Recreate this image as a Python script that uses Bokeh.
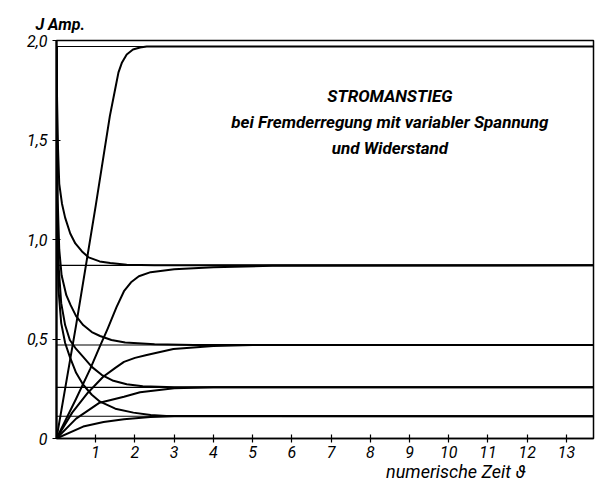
from bokeh.plotting import figure
from bokeh.models import Range1d, FixedTicker, Label, Title
from bokeh.embed import file_html
from bokeh.resources import INLINE

# ---- data ----
x_ticks = [1, 2, 3, 4, 5, 6, 7, 8, 9, 10, 11, 12, 13]
x_tick_labels = ["1", "2", "3", "4", "5", "6", "7", "8", "9", "10", "11", "12", "13"]
y_ticks = [0, 0.5, 1.0, 1.5, 2.0]
y_tick_labels = ["0", "0,5", "1,0", "1,5", "2,0"]

t_max = 13.69
asymptotes = [1.97, 0.87, 0.47, 0.257, 0.112]

# rising curves (from 0)
rise_1_x = [0, 0.5, 1.0, 1.2, 1.36, 1.5, 1.58, 1.67, 1.79, 1.95, 2.13, 2.3, 13.69]
rise_1_y = [0, 0.57, 1.17, 1.42, 1.62, 1.76, 1.84, 1.89, 1.93, 1.955, 1.965, 1.97, 1.97]

rise_2_x = [0, 0.5, 0.86, 1.1, 1.3, 1.53, 1.72, 1.9, 2.1, 2.4, 3.0, 4.0, 5.5, 13.69]
rise_2_y = [0, 0.2, 0.35, 0.46, 0.55, 0.66, 0.74, 0.785, 0.815, 0.836, 0.85, 0.86, 0.868, 0.87]

rise_3_x = [0, 0.4, 0.8, 1.19, 1.5, 1.72, 2.0, 2.3, 2.98, 4.0, 5.0, 13.69]
rise_3_y = [0, 0.13, 0.23, 0.31, 0.355, 0.385, 0.405, 0.42, 0.45, 0.465, 0.47, 0.47]

rise_4_x = [0, 0.5, 1.1, 1.72, 2.13, 3.0, 4.0, 13.69]
rise_4_y = [0, 0.1, 0.18, 0.21, 0.232, 0.252, 0.257, 0.257]

rise_5_x = [0, 0.68, 1.2, 1.72, 2.39, 3.0, 13.69]
rise_5_y = [0, 0.06, 0.083, 0.097, 0.108, 0.112, 0.112]

# decaying curves (from the top)
decay_1_x = [0, 0.015, 0.04, 0.07, 0.14, 0.22, 0.35, 0.48, 0.65, 0.82, 1.1, 1.37, 1.79, 2.5, 13.69]
decay_1_y = [1.97, 1.7, 1.45, 1.28, 1.18, 1.11, 1.03, 0.98, 0.94, 0.91, 0.89, 0.882, 0.873, 0.87, 0.87]

decay_2_x = [0, 0.01, 0.03, 0.07, 0.13, 0.25, 0.36, 0.5, 0.68, 0.9, 1.11, 1.4, 1.75, 2.5, 3.5, 13.69]
decay_2_y = [1.97, 1.6, 1.2, 0.95, 0.82, 0.72, 0.67, 0.615, 0.57, 0.535, 0.515, 0.495, 0.482, 0.474, 0.47, 0.47]

decay_3_x = [0, 0.008, 0.025, 0.06, 0.12, 0.22, 0.34, 0.5, 0.68, 0.9, 1.15, 1.45, 1.79, 2.2, 3.0, 13.69]
decay_3_y = [1.97, 1.5, 1.1, 0.85, 0.68, 0.57, 0.495, 0.45, 0.41, 0.36, 0.32, 0.29, 0.273, 0.263, 0.257, 0.257]

decay_4_x = [0, 0.006, 0.02, 0.05, 0.12, 0.22, 0.34, 0.5, 0.68, 0.9, 1.11, 1.5, 1.96, 2.4, 2.8, 13.69]
decay_4_y = [1.97, 1.4, 1.0, 0.75, 0.58, 0.48, 0.41, 0.33, 0.27, 0.22, 0.185, 0.15, 0.13, 0.118, 0.113, 0.112]

title_lines = ["STROMANSTIEG",
               "bei Fremderregung mit variabler Spannung",
               "und Widerstand"]
y_label = "J Amp."
x_label = "numerische Zeit \u03d1"

FONT = "Roboto"

p = figure(width=595, height=480, output_backend="svg", toolbar_location=None,
           x_range=Range1d(0, t_max), y_range=Range1d(0, 2.0),
           min_border_left=56, min_border_right=2, min_border_top=40, min_border_bottom=42)
p.background_fill_color = "white"
p.border_fill_color = "white"
p.outline_line_color = "black"
p.outline_line_width = 1.5
p.grid.visible = False

for ax in (p.xaxis[0], p.yaxis[0]):
    ax.axis_line_color = "black"
    ax.axis_line_width = 1.5
    ax.major_tick_line_color = "black"
    ax.major_tick_line_width = 1.2
    ax.major_tick_in = 4
    ax.major_tick_out = 4
    ax.minor_tick_line_color = None
    ax.major_label_text_font = FONT
    ax.major_label_text_font_style = "italic"
    ax.major_label_text_font_size = "16px"
    ax.major_label_text_color = "black"

p.xaxis.ticker = FixedTicker(ticks=x_ticks)
p.xaxis.major_label_overrides = {t: l for t, l in zip(x_ticks, x_tick_labels)}
p.xaxis.major_label_standoff = 3
p.yaxis.ticker = FixedTicker(ticks=y_ticks)
p.yaxis.major_label_overrides = {t: l for t, l in zip(y_ticks, y_tick_labels)}
p.yaxis.major_label_standoff = 5
p.yaxis[0].axis_line_width = 2.2

for lvl in asymptotes:
    p.line([0, t_max], [lvl, lvl], line_color="black", line_width=1.1)

curves = [(rise_1_x, rise_1_y), (rise_2_x, rise_2_y), (rise_3_x, rise_3_y),
          (rise_4_x, rise_4_y), (rise_5_x, rise_5_y),
          (decay_1_x, decay_1_y), (decay_2_x, decay_2_y),
          (decay_3_x, decay_3_y), (decay_4_x, decay_4_y)]
for xs, ys in curves:
    p.line(xs, ys, line_color="black", line_width=2.0, line_join="round")

title_y = [1.72, 1.59, 1.46]
for txt, ty in zip(title_lines, title_y):
    p.add_layout(Label(x=8.5, y=ty, text=txt, text_align="center", text_baseline="middle",
                       text_font=FONT, text_font_style="bold italic",
                       text_font_size="17px", text_color="black"))

p.add_layout(Title(text=y_label, align="left", offset=-21, standoff=14,
                   text_font=FONT, text_font_style="bold italic", text_font_size="16px",
                   text_color="black"), "above")
p.add_layout(Title(text=x_label, align="right", offset=68, standoff=-4,
                   text_font=FONT, text_font_style="italic", text_font_size="18px",
                   text_color="black"), "below")

open("out.html", "w").write(file_html(p, INLINE))
